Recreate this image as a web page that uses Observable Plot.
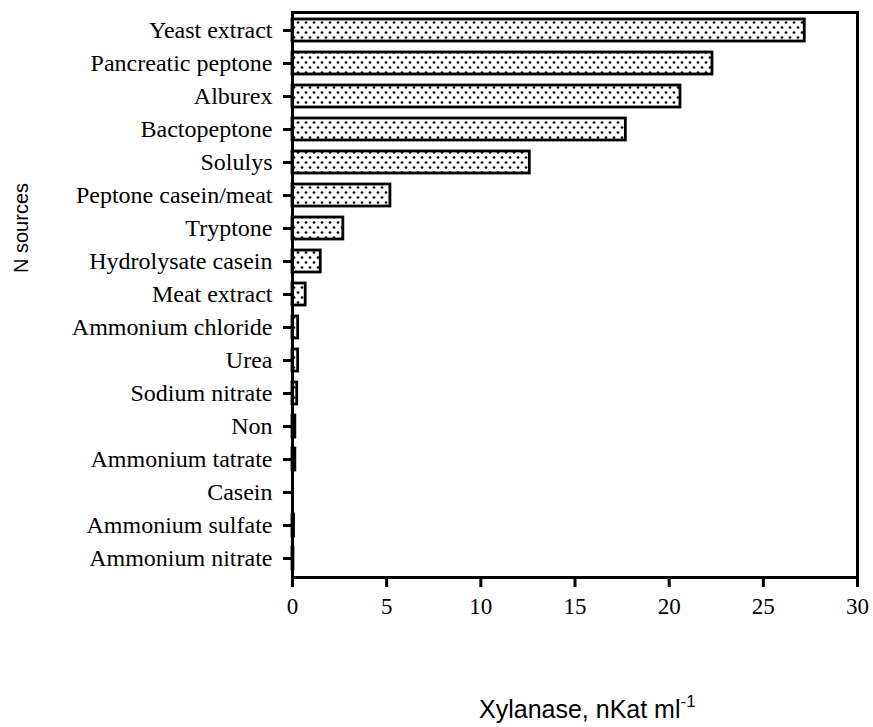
<!DOCTYPE html>
<html><head><meta charset="utf-8">
<script src="https://cdn.jsdelivr.net/npm/d3@7"></script>
<script src="https://cdn.jsdelivr.net/npm/@observablehq/plot@0.6"></script>
<style>body{margin:0;background:#fff}</style>
</head><body><div id="chart"></div>
<script>
const sources = ["Yeast extract", "Pancreatic peptone", "Alburex", "Bactopeptone", "Solulys",
  "Peptone casein/meat", "Tryptone", "Hydrolysate casein", "Meat extract", "Ammonium chloride",
  "Urea", "Sodium nitrate", "Non", "Ammonium tatrate", "Casein", "Ammonium sulfate", "Ammonium nitrate"];
const xylanase = [27.2, 22.3, 20.6, 17.7, 12.6, 5.2, 2.7, 1.5, 0.7, 0.3, 0.3, 0.25, 0.15, 0.15, 0, 0.08, 0.05];
const xTicks = [0, 5, 10, 15, 20, 25, 30];
const xLabel = "Xylanase, nKat ml";
const xLabelSup = "-1";
const yLabel = "N sources";

const data = sources.map((s, i) => ({source: s, value: xylanase[i]}));

const plot = Plot.plot({
  width: 873, height: 727,
  marginLeft: 292, marginRight: 16, marginTop: 12, marginBottom: 150,
  style: {fontFamily: "'Liberation Serif', 'Times New Roman', serif", fontSize: "23px", background: "white", color: "black"},
  x: {domain: [0, 30]},
  y: {domain: sources, paddingInner: 0.33, paddingOuter: 0.2},
  marks: [
    Plot.barX(data, {x: "value", y: "source", fill: "url(#dots)", stroke: "black", strokeWidth: 2.8}),
    Plot.axisX({ticks: xTicks, tickSize: 10, tickPadding: 10, strokeWidth: 3, fontSize: 23, label: null}),
    Plot.axisY({tickSize: 9, tickPadding: 11, strokeWidth: 3, fontSize: 24, label: null}),
    Plot.frame({stroke: "black", strokeWidth: 3})
  ]
});

const svg = d3.select(plot);
const defs = svg.insert("defs", ":first-child");
const pat = defs.append("pattern").attr("id", "dots").attr("patternUnits", "userSpaceOnUse")
  .attr("width", 8).attr("height", 10);
pat.append("rect").attr("width", 8).attr("height", 10).attr("fill", "white");
pat.append("circle").attr("cx", 2).attr("cy", 2.5).attr("r", 1.35).attr("fill", "black");
pat.append("circle").attr("cx", 6).attr("cy", 7.5).attr("r", 1.35).attr("fill", "black");

const xl = svg.append("text").attr("x", 479).attr("y", 718).attr("text-anchor", "start")
  .attr("font-family", "'Liberation Sans', Arial, sans-serif").attr("font-size", 25).attr("fill", "black");
xl.append("tspan").text(xLabel);
xl.append("tspan").attr("dy", -11).attr("font-size", 17).text(xLabelSup);

svg.append("text").attr("transform", "translate(28,228) rotate(-90)").attr("text-anchor", "middle")
  .attr("font-family", "'Liberation Sans', Arial, sans-serif").attr("font-size", 20).attr("fill", "black")
  .text(yLabel);

document.getElementById("chart").appendChild(plot);
</script>
</body></html>
